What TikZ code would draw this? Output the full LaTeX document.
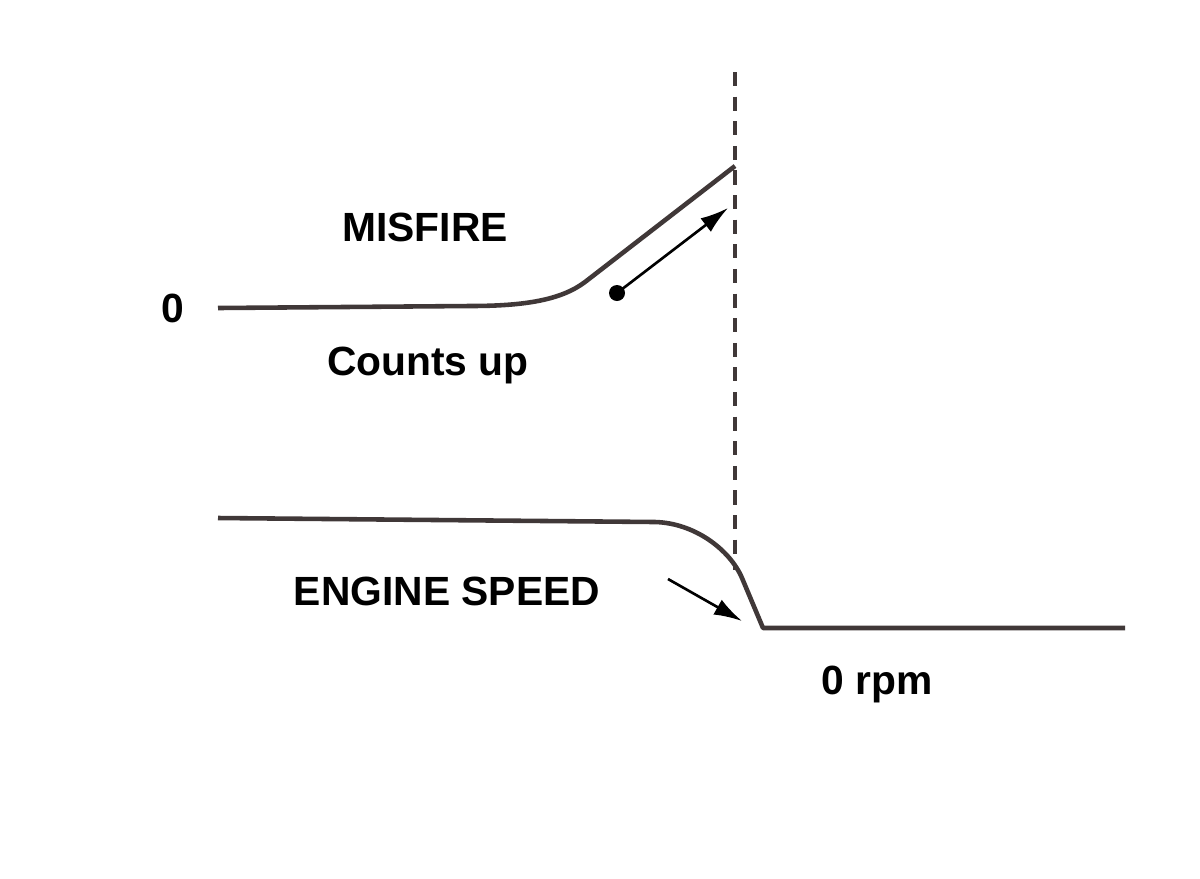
\documentclass[tikz,border=0pt]{standalone}
\usepackage{fontspec}
\setmainfont{Liberation Sans}
\usetikzlibrary{arrows.meta,positioning}
\definecolor{curvegray}{RGB}{64,56,56}

\begin{document}
\begin{tikzpicture}[x=0.01cm,y=-0.01cm,
  curve/.style={draw=curvegray,line width=1.3pt,line join=round},
  pointer/.style={-{Latex[length=0.28cm,width=0.17cm]},line width=0.75pt},
  lbl/.style={font=\fontsize{11.6}{13}\selectfont\bfseries,inner sep=0pt,anchor=base}]
\useasboundingbox (0,0) rectangle (1200,878);

% Marker line
\coordinate (mtop) at (735,72);
\coordinate (mbot) at (735,570);
\draw[curvegray,line width=1pt,dash pattern=on 4pt off 3pt] (mtop) -- (mbot);

% Misfire count
\coordinate (c0) at (218,308);
\coordinate (c1) at (470,306);
\coordinate (c2) at (525,306);
\coordinate (c3) at (561,300);
\coordinate (c4) at (585,282);
\coordinate (c5) at (735,166);
\draw[curve] (c0) -- (c1) .. controls (c2) and (c3) .. (c4) -- (c5);

% Engine speed
\coordinate (s0) at (218,518);
\coordinate (s1) at (655,522);
\coordinate (s2) at (695,523);
\coordinate (s3) at (730,550);
\coordinate (s4) at (742,578);
\coordinate (s5) at (763,628);
\coordinate (s6) at (1125,628);
\draw[curve] (s0) -- (s1) .. controls (s2) and (s3) .. (s4) -- (s5) -- (s6);

% Arrows
\node[circle,fill=black,inner sep=0pt,minimum size=0.16cm] (dot) at (617,293) {};
\coordinate (ctip) at (728,208);
\draw[pointer] (dot.center) -- (ctip);
\coordinate (stail) at (668,579);
\coordinate (stip) at (742,621);
\draw[pointer] (stail) -- (stip);

% Labels
\node[lbl] (zero) at (173,322) {0};
\node[lbl] (misfire) at (425,241) {MISFIRE};
\node[lbl] (counts) at (428,375) {Counts up};
\node[lbl] (speed) at (447,605) {ENGINE SPEED};
\node[lbl] (rpm) at (877,694) {0 rpm};
\end{tikzpicture}
\end{document}
